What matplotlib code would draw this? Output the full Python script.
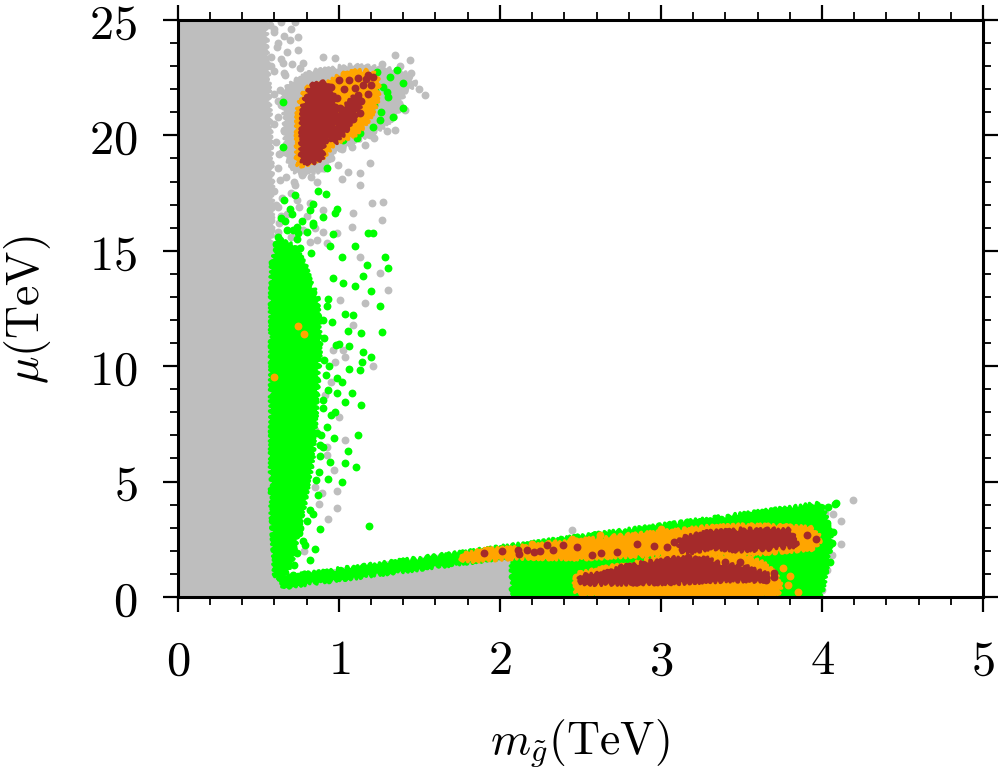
import matplotlib
matplotlib.use("Agg")
import matplotlib.pyplot as plt
from matplotlib.ticker import MultipleLocator, FuncFormatter

plt.rcParams['mathtext.fontset'] = 'cm'
plt.rcParams['font.family'] = ['DejaVu Serif']

GRAY = '#bebebe'
GREEN = '#00ff00'
ORANGE = '#ffa500'
BROWN = '#a52a2a'

# ---------------- data (TeV) ----------------
# dense gray region (left band + bottom wedge below the green strip)
gray_poly_x = [0, 0, 0.54, 0.55, 0.56, 0.57, 0.58, 0.58, 0.58, 0.58, 0.58, 0.58, 0.58, 0.585, 0.60, 0.62, 2.08, 2.08]
gray_poly_y = [0, 25, 25, 23.5, 22, 20, 18, 16, 14, 12, 10, 8, 5, 3, 1.5, 0.72, 2.10, 0]

# gray halo around the upper blob
gray_halo_x = [0.66, 0.72, 0.84, 1.03, 1.11, 1.30, 1.40, 1.48, 1.40, 1.36, 1.25, 1.11, 0.96, 0.90, 0.74, 0.68]
gray_halo_y = [21.9, 22.3, 22.75, 22.95, 23.0, 22.85, 22.7, 22.2, 21.9, 20.9, 20.3, 19.8, 19.3, 18.5, 18.4, 19.0]

# dense green column
green_col_x = [0.634, 0.720, 0.790, 0.830, 0.865, 0.880, 0.865, 0.850, 0.830, 0.785, 0.745, 0.705, 0.650, 0.609, 0.596, 0.584, 0.584, 0.584, 0.590]
green_col_y = [15.40, 15.20, 14.30, 13.50, 12.87, 11.14, 9.40, 7.67, 5.94, 4.20, 2.90, 1.60, 0.74, 0.95, 2.47, 4.20, 8.54, 12.87, 14.50]

# green strip + wedge (bottom)
green_wedge_x = [0.62, 3.97, 4.00, 4.03, 4.05, 4.04, 4.02, 4.00, 3.98, 2.08, 2.08, 0.66]
green_wedge_y = [0.80, 3.99, 3.85, 3.25, 2.60, 1.80, 1.10, 0.40, 0.00, 0.00, 1.80, 0.47]

# upper blob (orange and brown)
orange_blob_x = [0.745, 0.745, 0.801, 0.925, 1.025, 1.112, 1.211, 1.242, 1.236, 1.193, 1.112, 0.963, 0.901, 0.776]
orange_blob_y = [18.80, 21.10, 22.05, 22.27, 22.62, 22.75, 22.75, 22.31, 21.53, 20.80, 20.10, 19.67, 19.06, 18.72]
brown_blob_x = [0.770, 0.776, 0.832, 0.913, 0.963, 0.988, 0.963, 0.901, 0.894, 0.820]
brown_blob_y = [18.93, 21.23, 22.18, 22.27, 21.84, 20.80, 20.10, 19.67, 19.02, 18.80]
brown_branch_x = [0.95, 1.00, 1.05, 1.10, 1.14, 1.10, 1.05, 0.98]
brown_branch_y = [19.9, 20.6, 21.3, 21.7, 21.5, 20.9, 20.3, 19.7]

# bottom orange / brown bands
orange_up_x = [1.76, 1.90, 2.11, 2.31, 2.50, 2.70, 2.91, 3.12, 3.32, 3.53, 3.74, 3.94, 3.99,
               3.94, 3.74, 3.53, 3.32, 3.12, 2.91, 2.70, 2.50, 2.11, 1.77]
orange_up_y = [1.78, 2.00, 2.12, 2.30, 2.42, 2.58, 2.72, 2.86, 3.02, 3.06, 3.04, 2.95, 2.50,
               2.12, 2.00, 1.88, 1.88, 1.88, 1.85, 1.78, 1.70, 1.74, 1.58]
orange_low_x = [2.47, 2.50, 2.60, 2.70, 2.81, 2.91, 3.01, 3.12, 3.22, 3.32, 3.43, 3.53, 3.63, 3.70, 3.74, 3.72,
                3.30, 2.80, 2.55, 2.47]
orange_low_y = [0.87, 1.00, 1.14, 1.30, 1.36, 1.55, 1.67, 1.75, 1.72, 1.75, 1.75, 1.70, 1.45, 1.05, 0.50, 0.12,
                0.06, 0.06, 0.10, 0.30]
brown_up_x = [3.12, 3.29, 3.47, 3.66, 3.80, 3.84, 3.66, 3.47, 3.32, 3.18, 3.12]
brown_up_y = [2.51, 2.77, 2.88, 2.88, 2.88, 2.25, 2.12, 2.04, 2.17, 1.97, 2.04]
brown_low_x = [2.50, 2.60, 2.70, 2.76, 2.91, 3.04, 3.12, 3.22, 3.29, 3.37, 3.53, 3.66,
               3.66, 3.43, 3.12, 2.81, 2.60, 2.50]
brown_low_y = [0.88, 0.95, 1.08, 1.30, 1.45, 1.60, 1.68, 1.62, 1.62, 1.39, 1.26, 0.95,
               0.74, 0.76, 0.65, 0.62, 0.60, 0.65]

# individual points
gray_dots_x = [0.745, 0.615, 0.745, 0.901, 0.975, 0.776, 0.652, 0.696, 0.665, 0.634, 0.683, 0.658, 0.696, 0.634, 0.727,
               0.776, 0.863, 0.994, 1.056, 1.130, 1.193, 1.130, 1.019, 0.739, 0.820, 0.901, 1.087, 1.205, 1.273,
               1.081, 1.267, 1.130, 1.255, 1.304, 1.161, 0.988, 0.925, 0.863,
               1.025, 1.087, 1.211, 0.988, 0.925, 1.037, 0.975, 0.925, 0.894, 0.876, 0.851, 0.783, 0.963, 0.882,
               0.913, 0.851, 1.006, 1.441, 1.534, 1.348, 1.410, 1.348, 1.193,
               0.60, 0.58, 0.62, 0.60, 0.63, 0.61, 0.64, 0.62,
               0.57, 0.60, 0.64, 0.66, 0.70, 0.73, 0.62, 0.68, 0.58, 0.64, 0.71, 0.76, 0.60, 0.66,
               0.60, 0.64, 0.68, 0.62, 0.66, 0.70, 0.61, 0.65, 0.70, 0.62, 0.67, 0.72, 0.60, 0.65, 0.70,
               0.62, 0.68, 0.75, 0.80, 0.63, 0.78, 0.85, 0.90, 0.70, 0.82, 0.60, 0.59, 0.61,
               0.77, 0.83, 0.88, 0.95, 1.02, 1.08, 0.79, 1.16, 1.22, 1.30, 1.45, 1.50, 1.38, 1.27,
               0.95, 1.00, 0.97, 1.04, 0.93, 0.99,
               2.45, 4.19, 4.12, 4.07, 4.02, 4.12, 4.03, 4.00, 3.93, 4.06]
gray_dots_y = [24.26, 23.83, 23.70, 23.40, 23.35, 23.14, 23.14, 24.13, 22.62, 21.97, 21.10, 20.23, 18.93, 18.07, 17.85,
               18.37, 17.98, 18.72, 18.41, 18.37, 18.80, 17.85, 18.11, 17.20, 17.07, 16.77, 16.64, 17.07, 17.11,
               16.03, 16.33, 14.73, 14.04, 13.30, 12.74, 15.77, 15.34, 15.47,
               10.70, 11.79, 10.01, 3.86, 6.15, 10.40, 10.18, 6.50, 4.51, 4.03, 4.77, 1.99, 10.70, 12.00,
               8.75, 7.24, 12.87, 23.27, 21.75, 23.48, 21.10, 20.23, 20.02,
               24.5, 23.0, 21.5, 20.5, 19.2, 17.0, 16.5, 15.8,
               24.8, 24.6, 24.9, 24.3, 24.6, 24.9, 24.0, 23.6, 23.4, 23.3, 23.1, 22.9, 22.8, 22.7,
               21.8, 21.3, 21.7, 20.8, 20.2, 20.6, 19.7, 19.3, 19.0, 18.6, 18.2, 18.0, 17.6, 17.3, 17.5,
               16.9, 16.6, 16.9, 16.5, 16.2, 15.9, 16.0, 15.8, 15.6, 15.4, 15.0, 13.5, 11.0,
               18.3, 18.2, 18.6, 19.0, 19.4, 19.5, 18.5, 19.6, 19.9, 20.2, 22.7, 22.0, 23.0, 23.1,
               9.3, 7.8, 5.5, 6.8, 3.4, 4.6,
               2.90, 4.20, 3.29, 3.60, 3.64, 2.30, 1.17, 0.30, 3.90, 1.80]

green_dots_x = [0.652, 0.652, 0.925, 0.870, 0.919, 0.839, 0.696, 0.820, 0.975, 0.988, 0.901, 0.665, 0.839, 0.739,
                0.714, 0.745, 1.180, 1.211, 0.634, 0.963, 1.099, 0.944, 1.019, 1.286, 1.174, 1.304, 1.149, 1.099,
                1.199, 1.025, 0.963, 1.255,
                1.236, 1.273, 1.317, 1.360, 1.398, 1.398, 1.335, 1.255, 1.211, 1.130, 1.112, 1.025, 1.304, 1.193,
                1.161, 1.068, 1.224, 1.18, 1.22, 1.26, 1.30,
                0.925, 1.037, 1.087, 1.137, 1.267, 1.056, 1.000, 1.062, 1.149, 1.199, 1.143, 1.062, 1.130, 1.019,
                1.081, 0.988, 1.037, 1.137, 0.975, 1.118, 1.056, 1.037, 1.106, 0.944, 0.876, 1.019, 1.186, 0.882,
                0.776, 0.714, 0.671, 0.783, 0.752, 0.932, 0.925, 0.901, 0.863,
                0.900, 0.910, 0.900, 0.880, 0.860, 0.820, 0.790, 0.708, 0.758, 0.665,
                0.62, 0.68, 0.74, 0.80, 0.64, 0.71, 0.77, 0.84, 0.61, 0.69, 0.76, 0.83, 0.66, 0.73,
                0.93, 0.96, 0.91, 0.98, 0.94, 0.92, 0.99, 0.90, 0.95, 0.89, 0.97, 0.88, 0.93,
                0.84, 0.80, 0.76, 0.74, 0.72, 0.87, 0.85, 0.82,
                4.08, 4.04, 4.03, 4.06, 3.98, 4.09, 4.05, 4.07]
green_dots_y = [21.45, 19.50, 18.59, 17.59, 17.46, 17.03, 16.81, 16.77, 16.64, 16.81, 16.46, 16.29, 16.20, 16.03,
                15.90, 15.77, 15.77, 15.77, 15.47, 15.73, 15.21, 15.21, 14.73, 14.73, 14.38, 14.25, 13.91, 13.47,
                13.26, 13.60, 13.82, 12.61,
                22.75, 22.10, 22.53, 22.83, 22.27, 21.19, 20.80, 20.67, 20.36, 20.10, 19.89, 19.80, 21.66, 21.53,
                20.88, 20.23, 21.97, 21.1, 21.3, 21.0, 21.9,
                12.61, 12.26, 12.22, 11.44, 11.48, 11.53, 10.96, 10.88, 10.62, 10.40, 10.18, 9.88, 9.84, 9.32,
                8.84, 8.84, 8.45, 8.32, 8.02, 7.02, 6.33, 5.81, 5.63, 5.85, 5.42, 4.98, 3.08, 2.95,
                2.43, 0.95, 0.65, 1.00, 2.77, 8.97, 7.37, 6.50, 7.11,
                12.00, 10.27, 8.54, 6.59, 5.07, 3.77, 2.25, 14.60, 14.17, 15.25,
                15.6, 15.9, 15.5, 15.8, 16.4, 16.6, 16.3, 16.1, 15.3, 15.0, 15.1, 14.9, 17.2, 17.4,
                12.9, 11.9, 11.2, 10.9, 10.0, 9.6, 9.5, 8.2, 7.9, 7.0, 6.9, 6.1, 5.1,
                3.6, 3.3, 3.0, 1.9, 1.4, 4.4, 2.1, 1.6,
                4.03, 3.90, 3.20, 2.34, 3.51, 4.07, 1.50, 2.80]

orange_dots_x = [0.745, 0.783, 0.596, 2.79, 3.79, 3.85, 3.73, 2.47, 1.77, 3.80, 3.76, 2.20, 2.45, 2.62, 3.00]
orange_dots_y = [11.74, 11.40, 9.53, 2.56, 0.52, 0.22, 0.56, 0.85, 1.73, 0.90, 1.25, 2.30, 2.52, 2.68, 2.95]

brown_dots_x = [1.04, 1.08, 1.12, 1.15, 1.12, 1.06, 1.18, 1.20, 1.09, 1.05, 1.01, 1.14, 1.18, 1.00, 0.95,
                1.17, 1.10, 1.03, 0.99, 1.13, 1.21,
                1.90, 2.01, 2.11, 2.17, 2.25, 2.29, 2.39, 2.57, 2.63, 2.73, 2.96, 3.04, 3.91, 3.96,
                2.33, 2.48, 2.85, 3.08, 2.12, 2.21,
                3.70, 3.70, 3.65, 3.40, 3.49, 3.17]
brown_dots_y = [20.9, 21.3, 21.75, 22.2, 22.5, 22.4, 22.6, 22.2, 20.7, 20.5, 21.2, 21.5, 21.8, 22.4, 22.1,
                22.45, 22.05, 22.0, 21.6, 20.95, 22.55,
                1.91, 2.00, 2.05, 2.05, 2.00, 2.25, 2.25, 1.84, 1.91, 1.97, 2.21, 2.15, 2.69, 2.51,
                2.05, 2.15, 2.30, 2.40, 1.85, 1.95,
                1.04, 0.87, 0.74, 1.52, 1.52, 1.73]

x_ticks = [0, 1, 2, 3, 4, 5]
y_ticks = [0, 5, 10, 15, 20, 25]

# ---------------- figure ----------------
fig = plt.figure(figsize=(9.99, 7.69), dpi=100)
ax = fig.add_axes([0.178, 0.2237, 0.806, 0.7503])

def poly(xs, ys, c, z):
    for p in ax.fill(xs, ys, facecolor=c, edgecolor=c, linewidth=2.5, joinstyle='round', zorder=z):
        p.set_sketch_params(scale=2.5, length=6, randomness=3)

S = 32
poly(gray_poly_x, gray_poly_y, GRAY, 1)
poly(gray_halo_x, gray_halo_y, GRAY, 1)
ax.scatter(gray_dots_x, gray_dots_y, s=S, c=GRAY, linewidths=0, zorder=2)
poly(green_col_x, green_col_y, GREEN, 3)
poly(green_wedge_x, green_wedge_y, GREEN, 3)
ax.scatter(green_dots_x, green_dots_y, s=S, c=GREEN, linewidths=0, zorder=4)
poly(orange_blob_x, orange_blob_y, ORANGE, 5)
poly(orange_up_x, orange_up_y, ORANGE, 5)
poly(orange_low_x, orange_low_y, ORANGE, 5)
ax.scatter(orange_dots_x, orange_dots_y, s=S, c=ORANGE, linewidths=0, zorder=6)
poly(brown_blob_x, brown_blob_y, BROWN, 7)
poly(brown_branch_x, brown_branch_y, BROWN, 7)
poly(brown_up_x, brown_up_y, BROWN, 7)
poly(brown_low_x, brown_low_y, BROWN, 7)
ax.scatter(brown_dots_x, brown_dots_y, s=S, c=BROWN, linewidths=0, zorder=8)

ax.set_xlim(0, 5)
ax.set_ylim(0, 25)
ax.set_xticks(x_ticks)
ax.set_yticks(y_ticks)
ax.xaxis.set_minor_locator(MultipleLocator(0.2))
ax.yaxis.set_minor_locator(MultipleLocator(1))
fmt = FuncFormatter(lambda v, p: r'$%g$' % v)
ax.xaxis.set_major_formatter(fmt)
ax.yaxis.set_major_formatter(fmt)
ax.tick_params(which='both', direction='out', top=True, right=True, labelsize=35, pad=18)
ax.tick_params(which='major', length=11, width=1.6)
ax.tick_params(which='minor', length=5.5, width=1.3)
for s in ax.spines.values():
    s.set_linewidth(2.2)
    s.set_zorder(10)

fig.text(0.58, 0.034, r'$m_{\tilde{g}}(\mathrm{TeV})$', ha='center', va='center', fontsize=33)
fig.text(0.028, 0.597, r'$\mu(\mathrm{TeV})$', ha='center', va='center', fontsize=33, rotation=90)

fig.savefig('out.png', dpi=100)
